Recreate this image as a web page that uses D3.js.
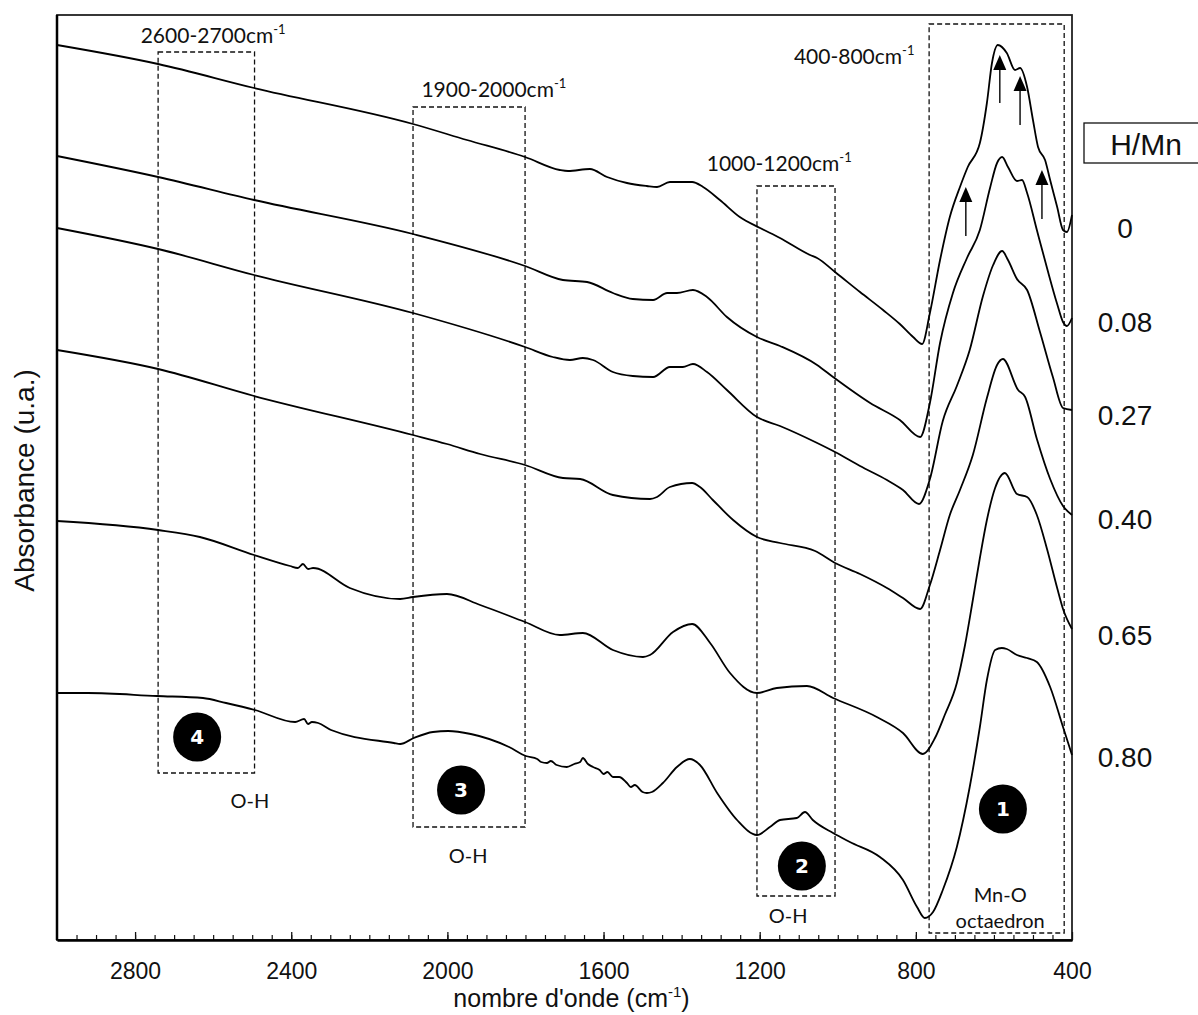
<!DOCTYPE html>
<html>
<head>
<meta charset="utf-8">
<script src="https://cdn.jsdelivr.net/npm/d3@7"></script>
<style>
  body { margin: 0; background: #fff; }
  svg { display: block; }
</style>
</head>
<body>
<div id="chart"></div>
<script>
// IR spectra, [wavenumber cm-1, absorbance u.a. (stacked, arbitrary offset)]
const hmnLabels = ["0", "0.08", "0.27", "0.40", "0.65", "0.80"];

const spectrum0 = [[3000,895],[2741,876],[2495,852],[2088,816],[1950,800],[1801,783],[1712,770],[1691,769],[1635,771],[1591,763],[1540,757],[1489,754],[1463,753],[1430,758],[1404,758],[1373,758],[1345,753],[1302,740],[1251,723],[1199,712],[1148,702],[1071,685],[1053,682],[1007,668],[943,648],[884,630],[841,616],[807,603],[784,596],[764,627],[738,680],[713,723],[687,753],[667,773],[636,797],[618,837],[605,877],[590,895],[567,887],[546,870],[533,872],[515,853],[500,820],[487,793],[469,780],[456,760],[438,733],[423,710],[413,708],[400,725]];

const spectrum008 = [[3000,784],[2741,763],[2495,740],[2088,706],[1801,674],[1704,660],[1642,658],[1576,647],[1525,641],[1473,640],[1437,647],[1412,647],[1371,650],[1335,643],[1284,623],[1207,603],[1148,594],[1053,575],[1012,563],[917,537],[841,520],[789,503],[764,537],[738,597],[705,647],[669,682],[636,710],[610,752],[592,777],[579,783],[564,773],[541,759],[528,760],[515,747],[490,710],[464,672],[438,636],[423,618],[413,614],[400,622]];

const spectrum027 = [[3000,712],[2741,691],[2495,665],[2088,627],[1801,593],[1730,583],[1686,580],[1653,582],[1627,580],[1576,568],[1525,564],[1473,563],[1430,573],[1397,573],[1371,576],[1335,568],[1284,550],[1207,523],[1148,514],[1058,498],[1007,488],[943,474],[874,460],[833,450],[792,436],[764,461],[731,519],[695,554],[662,590],[628,644],[602,675],[579,689],[564,680],[541,661],[515,650],[482,608],[449,563],[423,532],[400,530]];

const spectrum040 = [[3000,590],[2741,571],[2495,544],[2088,505],[2001,496],[1916,486],[1801,475],[1704,462],[1660,461],[1576,445],[1481,441],[1463,443],[1430,453],[1373,457],[1353,453],[1320,440],[1268,420],[1207,403],[1148,397],[1058,389],[1007,377],[943,366],[874,352],[833,342],[789,331],[764,355],[738,390],[713,425],[687,450],[654,485],[618,542],[592,575],[577,581],[538,550],[520,543],[490,501],[456,461],[423,434],[400,425]];

const spectrum065 = [[3000,419],[2741,410],[2634,403],[2495,385],[2403,374],[2383,372],[2370,376],[2357,371],[2344,372],[2250,352],[2121,341],[2088,343],[2001,346],[1916,335],[1801,318],[1712,305],[1653,307],[1576,290],[1499,283],[1481,285],[1422,308],[1373,316],[1327,297],[1276,267],[1207,247],[1156,252],[1079,254],[1012,242],[900,223],[833,207],[782,186],[751,202],[726,225],[695,257],[674,295],[654,340],[636,382],[618,420],[597,452],[572,467],[541,446],[515,443],[490,425],[464,391],[438,352],[423,331],[400,311]];

const spectrum080 = [[3000,247],[2921,247],[2744,244],[2626,242],[2567,237],[2493,230],[2390,218],[2367,221],[2357,216],[2347,218],[2331,217],[2298,210],[2137,197],[2121,196],[2086,202],[2037,208],[1998,209],[1940,206],[1842,193],[1799,184],[1770,181],[1760,178],[1745,177],[1735,179],[1720,175],[1694,173],[1675,176],[1660,178],[1653,182],[1640,176],[1627,173],[1610,170],[1600,166],[1590,168],[1576,163],[1560,163],[1540,157],[1530,153],[1520,155],[1500,148],[1489,147],[1476,148],[1448,157],[1412,173],[1379,181],[1353,175],[1309,147],[1258,120],[1207,105],[1174,113],[1148,120],[1105,122],[1084,128],[1064,120],[1012,107],[969,98],[892,83],[833,60],[797,33],[777,22],[756,28],[731,50],[695,93],[662,153],[636,213],[618,260],[597,290],[580,292],[567,291],[541,285],[515,282],[490,278],[456,253],[423,213],[400,185]];

const spectra = [spectrum0, spectrum008, spectrum027, spectrum040, spectrum065, spectrum080];

const xTicks = [2800, 2400, 2000, 1600, 1200, 800, 400];

// dashed regions: [wn start, wn end, top, bottom]
const regionRanges = [[2741, 2494, 888, 167], [2088, 1801, 833, 113], [1207, 1007, 754, 44], [766, 420, 916, 7]];
const regionNames = ["2600-2700", "1900-2000", "1000-1200", "400-800"];
const regionNameAt = [[2600, 897], [1881, 843], [1150, 769], [958, 876]];

const bandNumbers = ["4", "3", "2", "1"];
const bandNumberAt = [[2641, 203], [1965, 150], [1092, 74], [577, 131]];

const bondNames = ["O-H", "O-H", "O-H", "Mn-O", "octaedron"];
const bondNameAt = [[2506, 132], [1947, 77], [1127, 17], [584, 38], [584, 12]];

// arrows on the H/Mn = 0 spectrum: [wn, from, to]
const arrowSpots = [[585, 837, 885], [533, 815, 864], [672, 704, 753], [477, 721, 770]];

const W = 1198, H = 1015;
const labelDy = [13, 4, 5, 4, 6, 2];

const svg = d3.select("#chart").append("svg")
    .attr("width", W)
    .attr("height", H)
    .style("background", "#fff");

const x = d3.scaleLinear().domain([3000, 400]).range([57, 1072]);
const y = d3.scaleLinear().domain([0, 925]).range([940, 15]);

// frame
svg.append("rect")
    .attr("x", x(3000)).attr("y", y(925))
    .attr("width", x(400) - x(3000)).attr("height", y(0) - y(925))
    .attr("fill", "none").attr("stroke", "#222").attr("stroke-width", 1.8);

svg.append("line")
    .attr("x1", x(3000)).attr("x2", x(3000))
    .attr("y1", y(925)).attr("y2", y(0))
    .attr("stroke", "#000").attr("stroke-width", 2.5);

// minor ticks every 50 cm-1
svg.append("g")
    .attr("transform", `translate(0,${y(0)})`)
    .call(d3.axisBottom(x).tickValues(d3.range(2950, 400, -50)).tickSize(-5).tickFormat(""))
    .call(g => g.select(".domain").remove())
    .call(g => g.selectAll("line").attr("stroke", "#111").attr("stroke-width", 1.2));

const xAxis = svg.append("g")
    .attr("transform", `translate(0,${y(0)})`)
    .call(d3.axisBottom(x).tickValues(xTicks).tickSize(-8).tickSizeOuter(0).tickPadding(23).tickFormat(d3.format("d")));

xAxis.select(".domain").attr("stroke", "#000").attr("stroke-width", 2.5);
xAxis.selectAll("line").attr("stroke", "#111").attr("stroke-width", 1.3);
xAxis.selectAll("text")
    .attr("fill", "#111")
    .style("font-family", "'Liberation Sans', Arial, sans-serif")
    .style("font-size", "23px");

// axis titles
const xTitle = svg.append("text")
    .attr("x", (x(3000) + x(400)) / 2 + 7)
    .attr("y", 1007)
    .attr("text-anchor", "middle")
    .style("font-family", "'Liberation Sans', Arial, sans-serif")
    .style("font-size", "25px")
    .attr("fill", "#111");
xTitle.append("tspan").text("nombre d'onde (cm");
xTitle.append("tspan").attr("dy", -10).style("font-size", "15px").text("-1");
xTitle.append("tspan").attr("dy", 10).text(")");

svg.append("text")
    .attr("transform", `translate(24,${(y(0) + y(925)) / 2 + 3}) rotate(-90)`)
    .attr("text-anchor", "middle")
    .attr("dominant-baseline", "central")
    .style("font-family", "'Liberation Sans', Arial, sans-serif")
    .style("font-size", "28px")
    .attr("fill", "#111")
    .text("Absorbance (u.a.)");

// dashed regions
svg.append("g").selectAll("rect")
    .data(regionRanges)
    .join("rect")
    .attr("x", d => x(d[0]))
    .attr("y", d => y(d[2]))
    .attr("width", d => x(d[1]) - x(d[0]))
    .attr("height", d => y(d[3]) - y(d[2]))
    .attr("fill", "none")
    .attr("stroke", "#111")
    .attr("stroke-width", 1.3)
    .attr("stroke-dasharray", "5,3");

const regionText = svg.append("g").selectAll("text")
    .data(regionNames)
    .join("text")
    .attr("x", (d, i) => x(regionNameAt[i][0]))
    .attr("y", (d, i) => y(regionNameAt[i][1]))
    .attr("text-anchor", "middle")
    .style("font-family", "Lato, 'Open Sans', sans-serif")
    .style("font-size", "21px")
    .attr("fill", "#111");
regionText.append("tspan").text(d => d + "cm");
regionText.append("tspan").attr("dy", -9).style("font-size", "13px").text("-1");

// spectra
const line = d3.line()
    .x(d => x(d[0]))
    .y(d => y(d[1]))
    .curve(d3.curveMonotoneX);

svg.append("g").selectAll("path")
    .data(spectra)
    .join("path")
    .attr("d", line)
    .attr("fill", "none")
    .attr("stroke", "#000")
    .attr("stroke-width", 1.8)
    .attr("stroke-linejoin", "round");

// arrows
const arrows = svg.append("g").selectAll("g")
    .data(arrowSpots)
    .join("g");
arrows.append("line")
    .attr("x1", d => x(d[0])).attr("x2", d => x(d[0]))
    .attr("y1", d => y(d[1])).attr("y2", d => y(d[2]) + 12)
    .attr("stroke", "#222").attr("stroke-width", 1.6);
arrows.append("path")
    .attr("d", d => {
        const cx = x(d[0]), ty = y(d[2]);
        return `M${cx},${ty}L${cx - 6.5},${ty + 15}L${cx + 6.5},${ty + 15}Z`;
    })
    .attr("fill", "#000");

// numbered bands
const bands = svg.append("g").selectAll("g")
    .data(bandNumbers)
    .join("g")
    .attr("transform", (d, i) => `translate(${x(bandNumberAt[i][0])},${y(bandNumberAt[i][1])})`);
bands.append("ellipse").attr("rx", 24).attr("ry", 24.5).attr("fill", "#000");
bands.append("text")
    .attr("text-anchor", "middle")
    .attr("dominant-baseline", "central")
    .attr("fill", "#fff")
    .style("font-family", "'DejaVu Sans', sans-serif")
    .style("font-weight", "bold")
    .style("font-size", "20px")
    .text(d => d);

svg.append("g").selectAll("text")
    .data(bondNames)
    .join("text")
    .attr("x", (d, i) => x(bondNameAt[i][0]))
    .attr("y", (d, i) => y(bondNameAt[i][1]))
    .attr("text-anchor", "middle")
    .style("font-family", "Lato, 'Open Sans', sans-serif")
    .style("font-size", "20px")
    .attr("fill", "#111")
    .text(d => d);

// H/Mn legend
svg.append("rect")
    .attr("x", 1084).attr("y", 123)
    .attr("width", 130).attr("height", 40)
    .attr("fill", "#fff").attr("stroke", "#111").attr("stroke-width", 1.3);
svg.append("text")
    .attr("x", 1146).attr("y", 144)
    .attr("text-anchor", "middle")
    .attr("dominant-baseline", "central")
    .style("font-family", "'Liberation Sans', Arial, sans-serif")
    .style("font-size", "30px")
    .attr("fill", "#111")
    .text("H/Mn");

svg.append("g").selectAll("text")
    .data(hmnLabels)
    .join("text")
    .attr("x", 1125)
    .attr("y", (d, i) => y(spectra[i][spectra[i].length - 1][1]) + labelDy[i])
    .attr("text-anchor", "middle")
    .attr("dominant-baseline", "central")
    .style("font-family", "'Liberation Sans', Arial, sans-serif")
    .style("font-size", "28px")
    .attr("fill", "#111")
    .text(d => d);
</script>
</body>
</html>
